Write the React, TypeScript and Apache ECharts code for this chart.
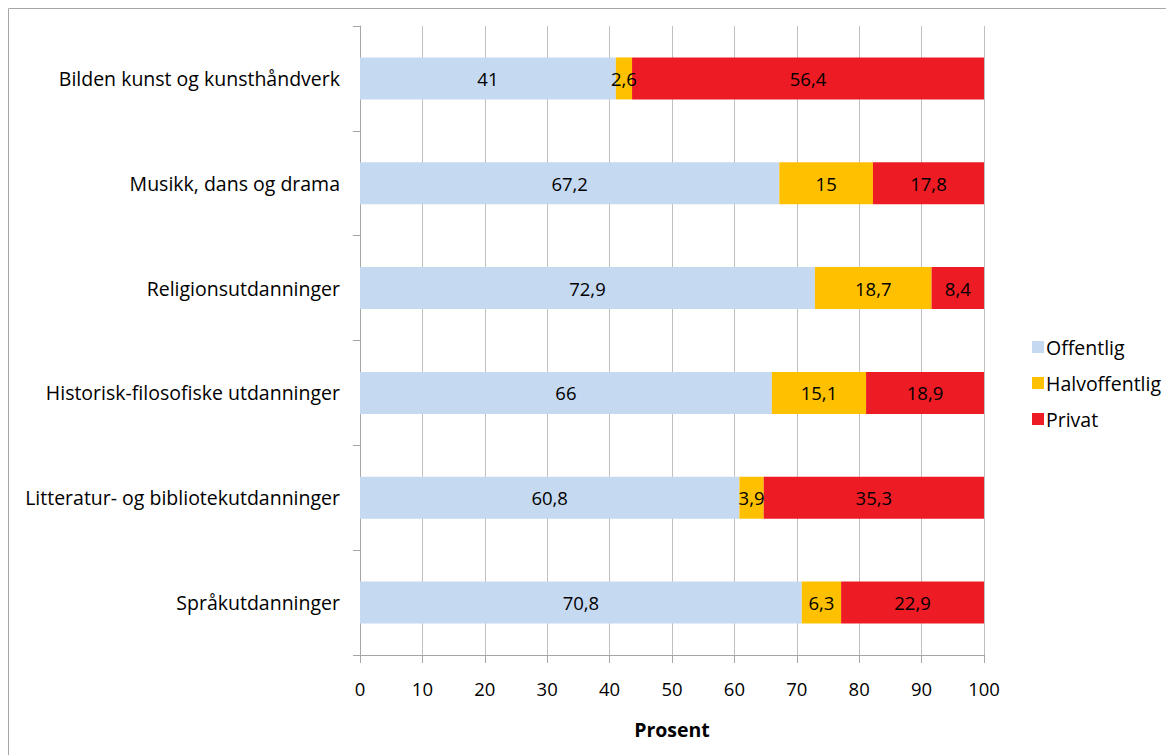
import React, { useEffect, useRef } from "react";
import * as echarts from "echarts";

const categories = [
  "Bilden kunst og kunsthåndverk",
  "Musikk, dans og drama",
  "Religionsutdanninger",
  "Historisk-filosofiske utdanninger",
  "Litteratur- og bibliotekutdanninger",
  "Språkutdanninger",
];
const offentlig = [41, 67.2, 72.9, 66, 60.8, 70.8];
const halvoffentlig = [2.6, 15, 18.7, 15.1, 3.9, 6.3];
const privat = [56.4, 17.8, 8.4, 18.9, 35.3, 22.9];
const xTicks = { min: 0, max: 100, interval: 10 };

const FONT = "Open Sans";
const FS_TEXT = 19.5;
const FS_NUM = 18.5;
const fmt = (p: any) => String(p.value).replace(".", ",");

export default function App() {
  const ref = useRef<HTMLDivElement>(null);
  useEffect(() => {
    if (!ref.current) return;
    const chart = echarts.init(ref.current, undefined, { renderer: "svg" });
    const mk = (name: string, data: number[], color: string) => ({
      name,
      type: "bar",
      stack: "total",
      data,
      barWidth: 42,
      itemStyle: { color },
      label: {
        show: true,
        position: "inside",
        formatter: fmt,
        color: "#000",
        fontFamily: FONT,
        fontSize: FS_NUM,
      },
    });
    chart.setOption({
      animation: false,
      textStyle: { fontFamily: FONT },
      graphic: [
        {
          type: "rect",
          shape: { x: 8.5, y: 8.5, width: 1200, height: 800 },
          style: { fill: "none", stroke: "#A6A6A6", lineWidth: 1 },
          silent: true,
          z: -10,
        },
      ],
      legend: {
        orient: "vertical",
        left: 1027,
        top: 332,
        itemWidth: 12,
        itemHeight: 12,
        itemGap: 16,
        icon: "rect",
        textStyle: { fontFamily: FONT, fontSize: FS_TEXT, color: "#000", padding: [0, 0, 0, -3] },
        data: ["Offentlig", "Halvoffentlig", "Privat"],
      },
      grid: { left: 360, right: 182, top: 26, bottom: 100, containLabel: false },
      xAxis: {
        type: "value",
        min: xTicks.min,
        max: xTicks.max,
        interval: xTicks.interval,
        name: "Prosent",
        nameLocation: "middle",
        nameGap: 64,
        nameTextStyle: { fontFamily: FONT, fontSize: FS_TEXT, fontWeight: "bold", color: "#000" },
        axisLine: { show: true, lineStyle: { color: "#A6A6A6", width: 1 } },
        axisTick: { show: true, length: 8, lineStyle: { color: "#A6A6A6" } },
        axisLabel: { fontFamily: FONT, fontSize: FS_NUM, color: "#000", margin: 24 },
        splitLine: { show: true, lineStyle: { color: "#BFBFBF", width: 1 } },
      },
      yAxis: {
        type: "category",
        inverse: true,
        data: categories,
        axisLine: { show: true, lineStyle: { color: "#A6A6A6", width: 1 } },
        axisTick: { show: true, length: 7, lineStyle: { color: "#A6A6A6" } },
        axisLabel: { fontFamily: FONT, fontSize: FS_TEXT, color: "#000", margin: 20 },
        splitLine: { show: false },
      },
      series: [
        mk("Offentlig", offentlig, "#C5D9F1"),
        mk("Halvoffentlig", halvoffentlig, "#FFC000"),
        mk("Privat", privat, "#ED1C24"),
      ],
    });
    return () => chart.dispose();
  }, []);
  return (
    <div
      ref={ref}
      style={{ position: "absolute", left: 0, top: 0, width: 1166, height: 755, background: "#fff" }}
    />
  );
}
